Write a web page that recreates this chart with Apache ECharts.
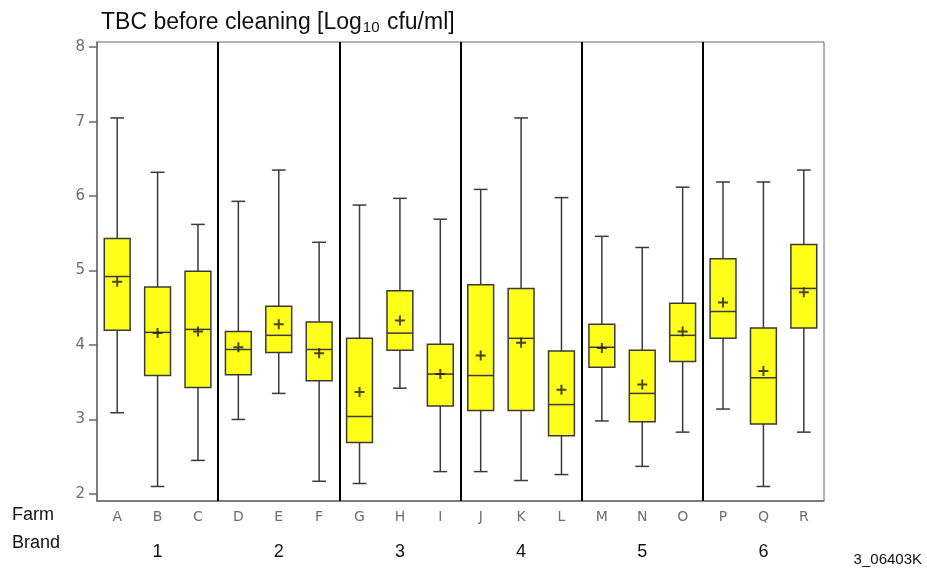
<!DOCTYPE html>
<html>
<head>
<meta charset="utf-8">
<script src="https://cdn.jsdelivr.net/npm/echarts@6/dist/echarts.min.js"></script>
<style>
  html, body { margin: 0; padding: 0; background: #fff; }
  #chart { width: 927px; height: 576px; }
</style>
</head>
<body>
<div id="chart"></div>
<script>
// Farms (x categories) and the brand each group of three farms belongs to
const farms = ['A', 'B', 'C', 'D', 'E', 'F', 'G', 'H', 'I', 'J', 'K', 'L', 'M', 'N', 'O', 'P', 'Q', 'R'];
const brands = ['1', '2', '3', '4', '5', '6'];
const farmsPerBrand = 3;

// Box statistics, TBC before cleaning [log10 cfu/ml]
const whiskerLow  = [3.09, 2.10, 2.45, 3.00, 3.35, 2.17, 2.14, 3.42, 2.30, 2.30, 2.18, 2.26, 2.98, 2.37, 2.83, 3.14, 2.10, 2.83];
const quartile1   = [4.20, 3.59, 3.43, 3.60, 3.90, 3.52, 2.69, 3.93, 3.18, 3.12, 3.12, 2.78, 3.70, 2.97, 3.78, 4.09, 2.94, 4.23];
const medians     = [4.92, 4.17, 4.21, 3.94, 4.13, 3.94, 3.04, 4.16, 3.61, 3.59, 4.09, 3.20, 3.97, 3.35, 4.13, 4.45, 3.56, 4.76];
const quartile3   = [5.43, 4.78, 4.99, 4.18, 4.52, 4.31, 4.09, 4.73, 4.01, 4.81, 4.76, 3.92, 4.28, 3.93, 4.56, 5.16, 4.23, 5.35];
const whiskerHigh = [7.05, 6.32, 5.62, 5.93, 6.35, 5.38, 5.88, 5.97, 5.69, 6.09, 7.05, 5.98, 5.46, 5.31, 6.12, 6.19, 6.19, 6.35];
const means       = [4.85, 4.16, 4.18, 3.97, 4.28, 3.89, 3.37, 4.33, 3.61, 3.86, 4.03, 3.40, 3.96, 3.47, 4.18, 4.57, 3.65, 4.71];

// Y tick labels
const yTicks = [2, 3, 4, 5, 6, 7, 8];

// Brand group boundaries on a 0..n value scale
const brandBoundaries = brands.slice(1).map((b, i) => (i + 1) * farmsPerBrand);

const boxData = farms.map((f, i) => [i, whiskerLow[i], quartile1[i], medians[i], quartile3[i], whiskerHigh[i]]);

const ink = '#3a3a3a';
const axisGrey = '#6a6a6a';
const sans = 'Liberation Sans, Arial, sans-serif';
const tickFont = 'DejaVu Sans, sans-serif';

function renderBox(params, api) {
  const i = api.value(0);
  const pLow = api.coord([i, api.value(1)]);
  const pQ1 = api.coord([i, api.value(2)]);
  const pMed = api.coord([i, api.value(3)]);
  const pQ3 = api.coord([i, api.value(4)]);
  const pHigh = api.coord([i, api.value(5)]);
  const x = pMed[0];
  const band = api.size([1, 0])[0];
  const half = band * 0.32;
  const cap = band * 0.17;
  const line = { stroke: ink, lineWidth: 1.5 };
  return {
    type: 'group',
    children: [
      { type: 'line', shape: { x1: x, y1: pHigh[1], x2: x, y2: pQ3[1] }, style: line },
      { type: 'line', shape: { x1: x, y1: pLow[1], x2: x, y2: pQ1[1] }, style: line },
      { type: 'line', shape: { x1: x - cap, y1: pHigh[1], x2: x + cap, y2: pHigh[1] }, style: line },
      { type: 'line', shape: { x1: x - cap, y1: pLow[1], x2: x + cap, y2: pLow[1] }, style: line },
      { type: 'rect', shape: { x: x - half, y: pQ3[1], width: half * 2, height: pQ1[1] - pQ3[1] },
        style: { fill: '#ffff1a', stroke: ink, lineWidth: 1.5 } },
      { type: 'line', shape: { x1: x - half, y1: pMed[1], x2: x + half, y2: pMed[1] }, style: line }
    ]
  };
}

const chart = echarts.init(document.getElementById('chart'), null, { renderer: 'canvas' });

chart.setOption({
  animation: false,
  backgroundColor: '#ffffff',
  title: {
    text: '{a|TBC before cleaning [Log}{s|10}{a| cfu/ml]}',
    left: 96,
    top: 3,
    textStyle: {
      fontWeight: 'normal',
      rich: {
        a: { fontFamily: sans, fontSize: 23, fontWeight: 'normal', color: '#111', lineHeight: 30 },
        s: { fontFamily: sans, fontSize: 15, fontWeight: 'normal', color: '#111', lineHeight: 30, padding: [10, 1, 0, 1] }
      }
    }
  },
  grid: {
    left: 97, right: 103, top: 42, bottom: 75,
    show: true, borderColor: axisGrey, borderWidth: 1
  },
  xAxis: [
    {
      type: 'category',
      data: farms,
      boundaryGap: true,
      axisLine: { lineStyle: { color: axisGrey, width: 1.5 } },
      axisTick: { alignWithLabel: true, length: 5, lineStyle: { color: axisGrey, width: 1.5 } },
      axisLabel: { interval: 0, margin: 9, color: '#6e6e6e', fontSize: 14, fontFamily: tickFont }
    },
    {
      type: 'category',
      data: farms,
      position: 'bottom',
      offset: 38,
      axisLine: { show: false },
      axisTick: { show: false },
      axisLabel: {
        interval: 0, margin: 4, color: '#111', fontSize: 18, fontFamily: sans,
        formatter: (v, i) => (i % farmsPerBrand === 1 ? brands[Math.floor(i / farmsPerBrand)] : '')
      }
    },
    { type: 'value', min: 0, max: farms.length, show: false }
  ],
  yAxis: {
    type: 'value',
    min: 1.905,
    max: 8.07,
    splitLine: { show: false },
    axisLine: { show: true, lineStyle: { color: axisGrey, width: 1.5 } },
    axisTick: { show: true, length: 8, customValues: yTicks, lineStyle: { color: axisGrey, width: 1.5 } },
    axisLabel: { customValues: yTicks, margin: 12, color: '#6e6e6e', fontSize: 15, fontFamily: tickFont }
  },
  series: [
    {
      type: 'custom',
      xAxisIndex: 0,
      renderItem: renderBox,
      encode: { x: 0, y: [1, 2, 3, 4, 5] },
      data: boxData,
      z: 3
    },
    {
      type: 'scatter',
      xAxisIndex: 0,
      data: means,
      symbol: 'path://M4,0H6V4H10V6H6V10H4V6H0V4H4Z',
      symbolSize: 10,
      itemStyle: { color: '#1a1a1a' },
      z: 4
    },
    {
      type: 'line',
      xAxisIndex: 2,
      data: [],
      markLine: {
        silent: true,
        symbol: 'none',
        label: { show: false },
        lineStyle: { color: '#000', width: 2, type: 'solid' },
        data: brandBoundaries.map(b => ({ xAxis: b }))
      },
      z: 2
    }
  ],
  graphic: [
    { type: 'text', left: 12, top: 506, style: { text: 'Farm', fontSize: 18, fill: '#111', fontFamily: sans } },
    { type: 'text', left: 12, top: 534, style: { text: 'Brand', fontSize: 18, fill: '#111', fontFamily: sans } },
    { type: 'text', right: 5, top: 552, style: { text: '3_06403K', fontSize: 15, fill: '#111', fontFamily: sans } }
  ]
});
</script>
</body>
</html>
